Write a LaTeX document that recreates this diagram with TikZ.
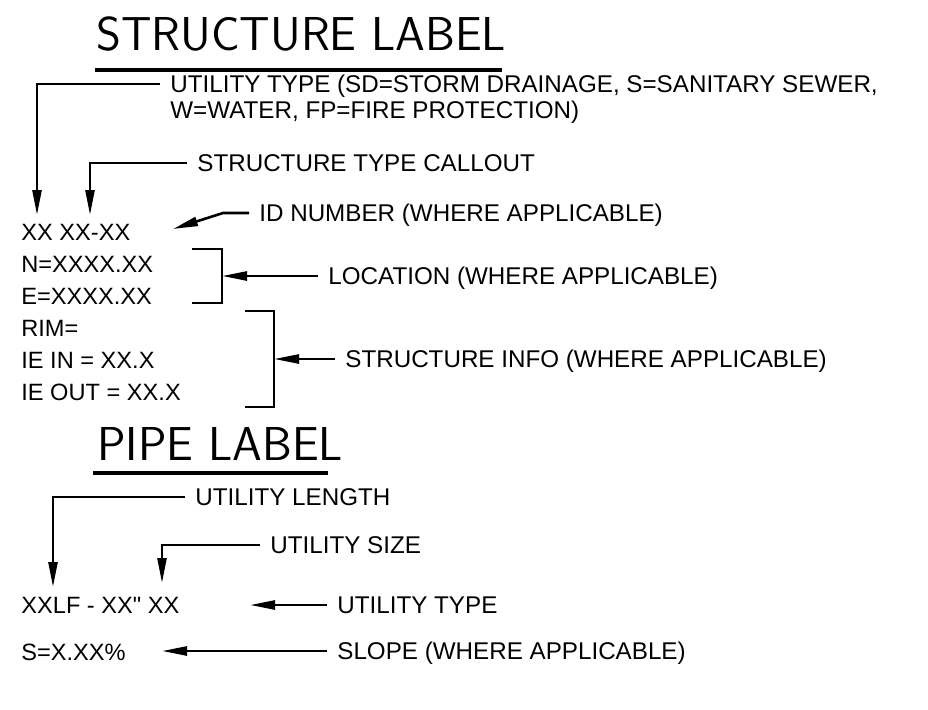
\documentclass[tikz,border=0pt]{standalone}
\usepackage{fontspec}
\setmainfont{Liberation Sans}
\usetikzlibrary{arrows.meta,positioning}

\begin{document}
\begin{tikzpicture}[x=0.5pt,y=-0.5pt,
        txt/.style={anchor=west,inner sep=0pt,text height=8.45pt,text depth=0pt,
            font=\fontsize{11.8pt}{14pt}\selectfont},
        note/.style={txt,inner xsep=5pt,text height=8.66pt,
            font=\fontsize{12.1pt}{14pt}\selectfont},
        heading/.style={anchor=base west,inner sep=0pt,
            font=\sffamily\fontsize{23.8pt}{28pt}\selectfont},
        leader/.style={line width=1.3pt,-{Triangle[length=12.5pt,width=4.5pt]}},
        bracket/.style={line width=1.3pt},
        rule/.style={line width=1.6pt}]
        \useasboundingbox (0,0) rectangle (928,709);

        %%%% Structure label =============================
        \node[heading] (stitle) at (96,50) {STRUCTURE LABEL};
        \draw[rule] (95,70) -- (502,70);

        % Label lines
        \node[txt] (sl1) at (21,232) {XX XX-XX};
        \node[txt] (sl2) at (21,264) {N=XXXX.XX};
        \node[txt] (sl3) at (21,296) {E=XXXX.XX};
        \node[txt] (sl4) at (21,328) {RIM=};
        \node[txt] (sl5) at (21,360) {IE IN = XX.X};
        \node[txt] (sl6) at (21,392) {IE OUT = XX.X};

        % Callouts
        \node[note] (utype) at (160,84) {UTILITY TYPE (SD=STORM DRAINAGE, S=SANITARY SEWER,};
        \node[note] (utype2) at (160,110) {W=WATER, FP=FIRE PROTECTION)};
        \node[note] (stype) at (187,163) {STRUCTURE TYPE CALLOUT};
        \node[note] (idnum) at (249,213) {ID NUMBER (WHERE APPLICABLE)};
        \node[note] (loc) at (318,276) {LOCATION (WHERE APPLICABLE)};
        \node[note] (info) at (335,359) {STRUCTURE INFO (WHERE APPLICABLE)};

        % Arrow ends
        \coordinate (utypeTip) at (37,215);
        \coordinate (stypeTip) at (90,215);
        \coordinate (idnumTip) at (173,229);
        \coordinate (locTip) at (222,276);
        \coordinate (infoTip) at (274,359);

        % Brackets
        \draw[bracket] (192,249) -| (locTip) |- (192,303);
        \draw[bracket] (245,311) -| (infoTip) |- (245,407);

        % Leaders
        \draw[leader] (utype.west) -| (utypeTip);
        \draw[leader] (stype.west) -| (stypeTip);
        \draw[leader] (idnum.west) -- ++(-26,0) -- (idnumTip);
        \draw[leader] (loc.west) -- (locTip);
        \draw[leader] (info.west) -- (infoTip);

        %%%% Pipe label ==================================
        \node[heading] (ptitle) at (97,460) {PIPE LABEL};
        \draw[rule] (93,473) -- (328,473);

        % Label lines
        \node[txt] (pl1) at (21,605) {XXLF - XX\textquotedbl{} XX};
        \node[txt] (pl2) at (21,652) {S=X.XX\%};

        % Callouts
        \node[note] (ulen) at (185,497) {UTILITY LENGTH};
        \node[note] (usize) at (260,545) {UTILITY SIZE};
        \node[note] (ptype) at (327,605) {UTILITY TYPE};
        \node[note] (slope) at (327,651) {SLOPE (WHERE APPLICABLE)};

        % Arrow ends
        \coordinate (ulenTip) at (53,587);
        \coordinate (usizeTip) at (162,583);
        \coordinate (ptypeTip) at (250,605);
        \coordinate (slopeTip) at (162,651);

        % Leaders
        \draw[leader] (ulen.west) -| (ulenTip);
        \draw[leader] (usize.west) -| (usizeTip);
        \draw[leader] (ptype.west) -- (ptypeTip);
        \draw[leader] (slope.west) -- (slopeTip);
    \end{tikzpicture}
\end{document}
